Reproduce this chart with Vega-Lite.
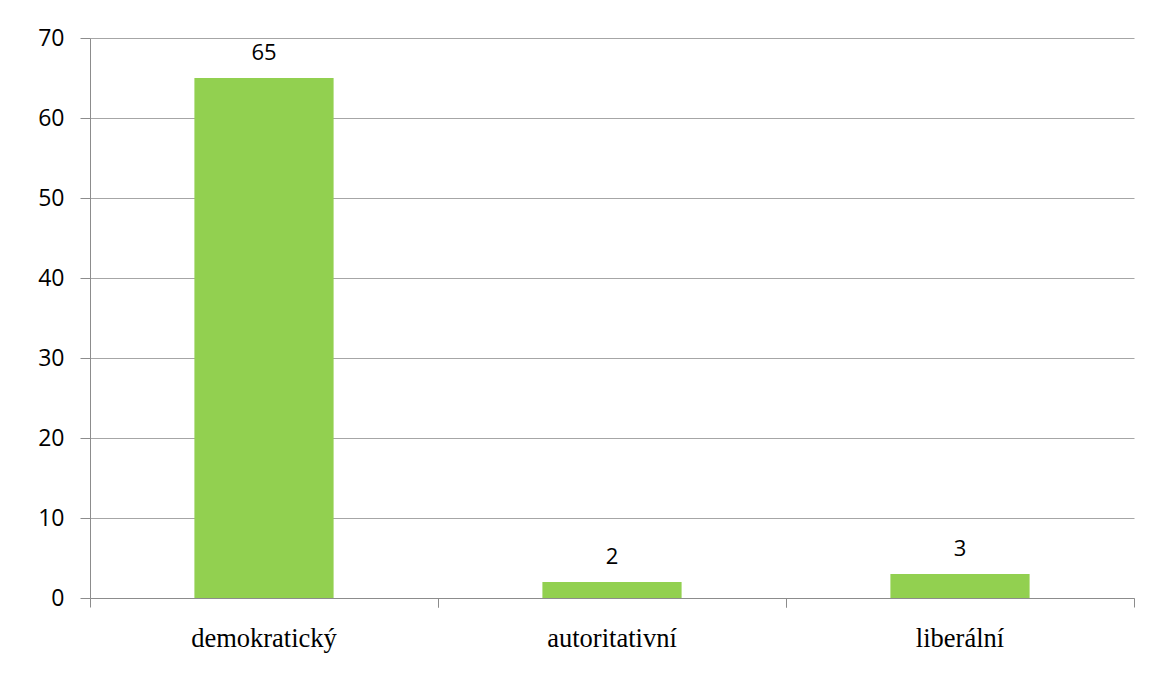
{
  "$schema": "https://vega.github.io/schema/vega-lite/v6.json",
  "width": 1044,
  "height": 560,
  "autosize": {"type": "none"},
  "padding": {"left": 90, "top": 38, "right": 27, "bottom": 79},
  "background": "white",
  "data": {
    "values": [
      {"typ": "demokratický", "pocet": 65},
      {"typ": "autoritativní", "pocet": 2},
      {"typ": "liberální", "pocet": 3}
    ]
  },
  "config": {
    "view": {"stroke": null},
    "axis": {"gridColor": "#a6a6a6", "domainColor": "#8c8c8c", "tickColor": "#8c8c8c"}
  },
  "layer": [
    {
      "mark": {"type": "bar", "color": "#92d050", "width": {"band": 0.4}},
      "encoding": {
        "x": {
          "field": "typ",
          "type": "nominal",
          "sort": null,
          "scale": {"paddingInner": 0, "paddingOuter": 0},
          "axis": {
            "title": null,
            "orient": "bottom",
            "bandPosition": 0,
            "labelAngle": 0,
            "labelFont": "Liberation Serif",
            "labelFontSize": 26.5,
            "labelColor": "#000000",
            "labelPadding": 18,
            "tickSize": 9,
            "labelBaseline": "top"
          }
        },
        "y": {
          "field": "pocet",
          "type": "quantitative",
          "scale": {"domain": [0, 70], "nice": false},
          "axis": {
            "title": null,
            "values": [0, 10, 20, 30, 40, 50, 60, 70],
            "labelFont": "Open Sans",
            "labelFontSize": 23,
            "labelColor": "#000000",
            "tickSize": 10,
            "labelPadding": 16,
            "gridWidth": 1
          }
        }
      }
    },
    {
      "mark": {"type": "text", "baseline": "bottom", "dy": -13, "font": "Open Sans", "fontSize": 22, "color": "#000000"},
      "encoding": {
        "x": {
          "field": "typ",
          "type": "nominal",
          "sort": null,
          "axis": {
            "title": null,
            "orient": "bottom",
            "bandPosition": 1,
            "labels": false,
            "domain": false,
            "grid": false,
            "tickSize": 9
          }
        },
        "y": {"field": "pocet", "type": "quantitative"},
        "text": {"field": "pocet", "type": "quantitative"}
      }
    }
  ],
  "resolve": {"axis": {"x": "independent"}}
}
